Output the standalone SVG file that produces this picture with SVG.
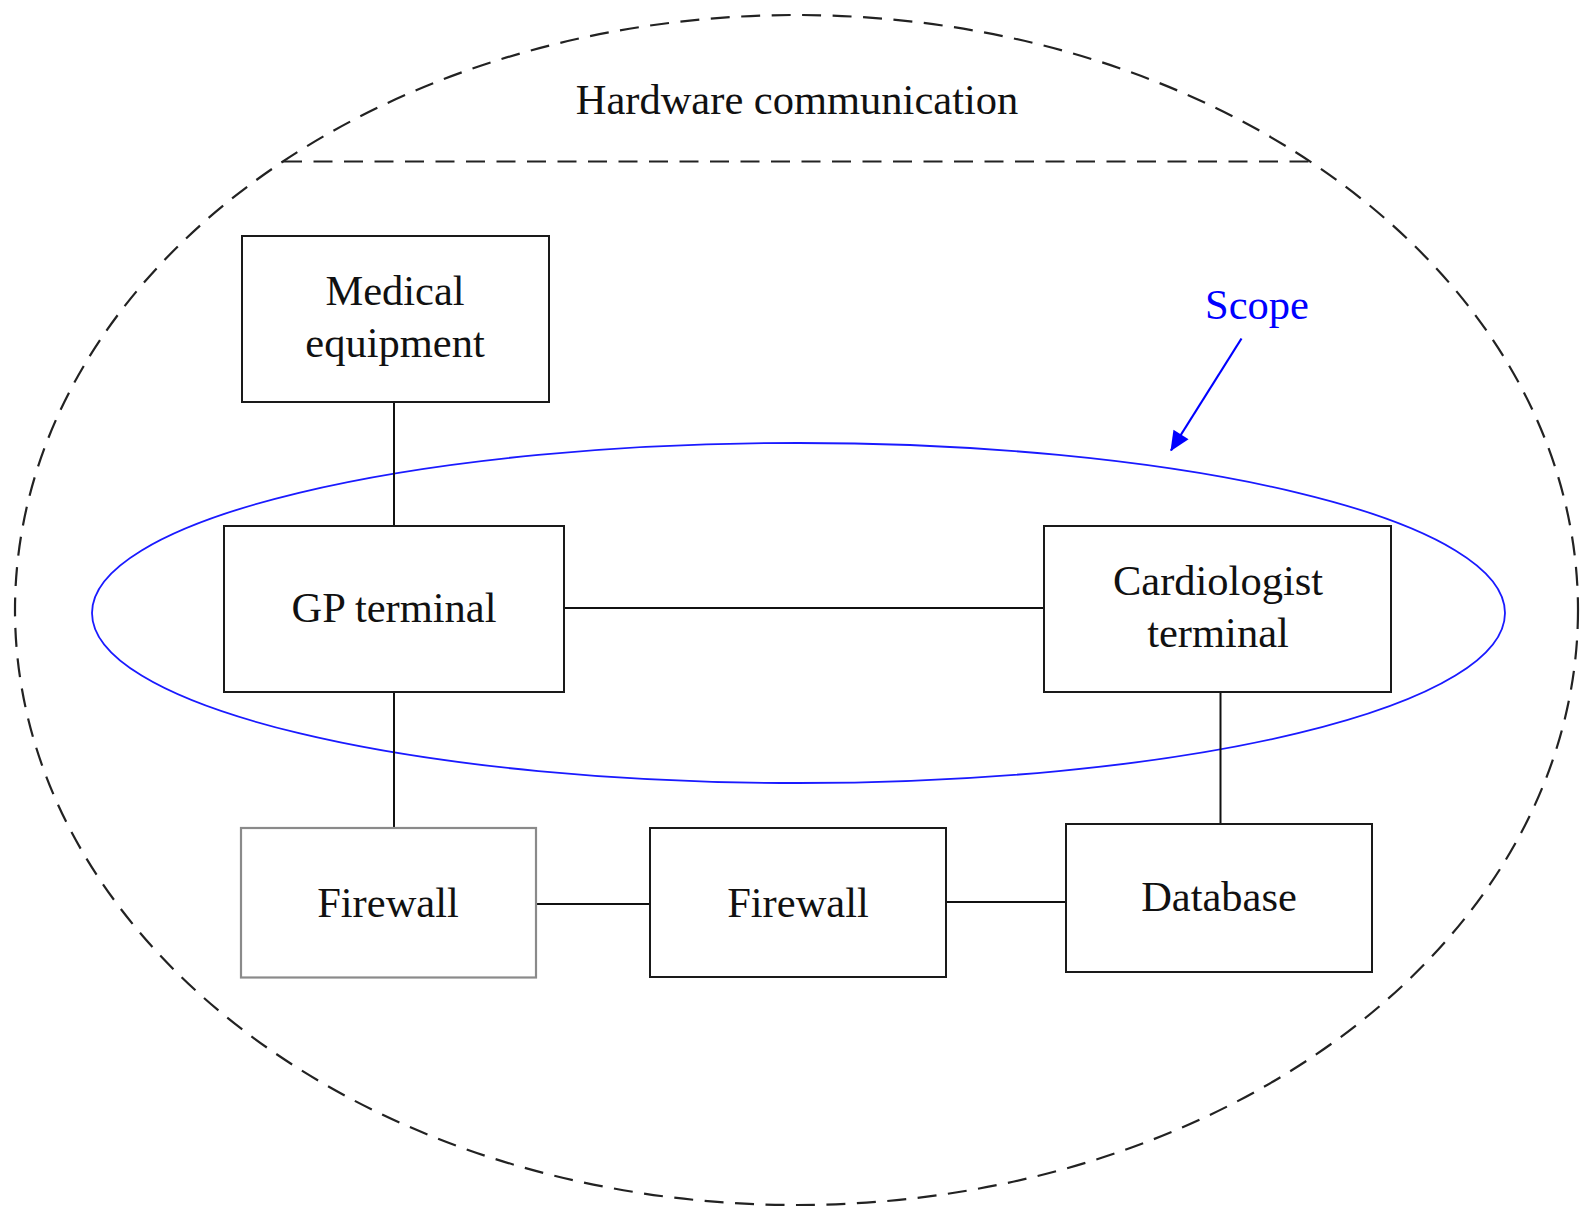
<svg xmlns="http://www.w3.org/2000/svg" width="1580" height="1208" viewBox="0 0 1580 1208">
  <defs>
    <style>
      .box { fill: #ffffff; stroke: #1a1a1a; stroke-width: 2; }
      .box-soft { fill: #ffffff; stroke: #8a8a8a; stroke-width: 2.2; }
      .label { font-family: "Liberation Serif", "Times New Roman", serif; font-size: 42.5px; fill: #111111; text-anchor: middle; }
      .link { stroke: #111111; stroke-width: 2; fill: none; }
      .bound { fill: none; stroke: #222222; stroke-width: 2.2; stroke-dasharray: 19 11.5; }
      .scope { fill: none; stroke: #1a1aff; stroke-width: 1.8; }
    </style>
    <marker id="scope-head" viewBox="0 0 10 10" refX="9.5" refY="5" markerWidth="9.5" markerHeight="9" markerUnits="strokeWidth" orient="auto">
      <path d="M0,0.5 L10,5 L0,9.5 Z" fill="#0000ff"/>
    </marker>
  </defs>

  <rect width="1580" height="1208" fill="#ffffff"/>

  <!-- outer boundary: hardware communication -->
  <g id="boundary">
    <ellipse class="bound" cx="796.5" cy="610" rx="781.5" ry="595"/>
    <line class="bound" x1="283" y1="161.5" x2="1314" y2="161.5" stroke-width="2.6"/>
    <text class="label" x="797" y="114" font-size="44.5">Hardware communication</text>
  </g>

  <!-- scope ellipse and its label -->
  <g id="scope">
    <ellipse class="scope" cx="798.5" cy="613" rx="706.5" ry="170"/>
    <text class="label" x="1257" y="319" style="fill:#0000ff">Scope</text>
    <line x1="1241.5" y1="338.5" x2="1171" y2="450.5" stroke="#0000ff" stroke-width="2.2" marker-end="url(#scope-head)"/>
  </g>

  <!-- connectors -->
  <g id="connectors">
    <line class="link" x1="394" y1="402" x2="394" y2="526" stroke="#555555"/>
    <line class="link" x1="564" y1="608" x2="1044" y2="608"/>
    <line class="link" x1="394" y1="692" x2="394" y2="828"/>
    <line class="link" x1="1220.5" y1="692" x2="1220.5" y2="824"/>
    <line class="link" x1="536" y1="904" x2="650" y2="904"/>
    <line class="link" x1="946" y1="902" x2="1066" y2="902"/>
  </g>

  <g id="medical-equipment">
    <rect class="box" x="242" y="236" width="307" height="166"/>
    <text class="label" x="395" y="305">Medical</text>
    <text class="label" x="395" y="356.5">equipment</text>
  </g>

  <g id="gp-terminal">
    <rect class="box" x="224" y="526" width="340" height="166"/>
    <text class="label" x="394" y="622">GP terminal</text>
  </g>

  <g id="cardiologist-terminal">
    <rect class="box" x="1044" y="526" width="347" height="166"/>
    <text class="label" x="1218" y="595">Cardiologist</text>
    <text class="label" x="1218" y="646.5">terminal</text>
  </g>

  <g id="firewall-1">
    <rect class="box-soft" x="241" y="828" width="295" height="149.5"/>
    <text class="label" x="388" y="916.5">Firewall</text>
  </g>

  <g id="firewall-2">
    <rect class="box" x="650" y="828" width="296" height="149"/>
    <text class="label" x="798" y="916.5">Firewall</text>
  </g>

  <g id="database">
    <rect class="box" x="1066" y="824" width="306" height="148"/>
    <text class="label" x="1219" y="911">Database</text>
  </g>
</svg>
